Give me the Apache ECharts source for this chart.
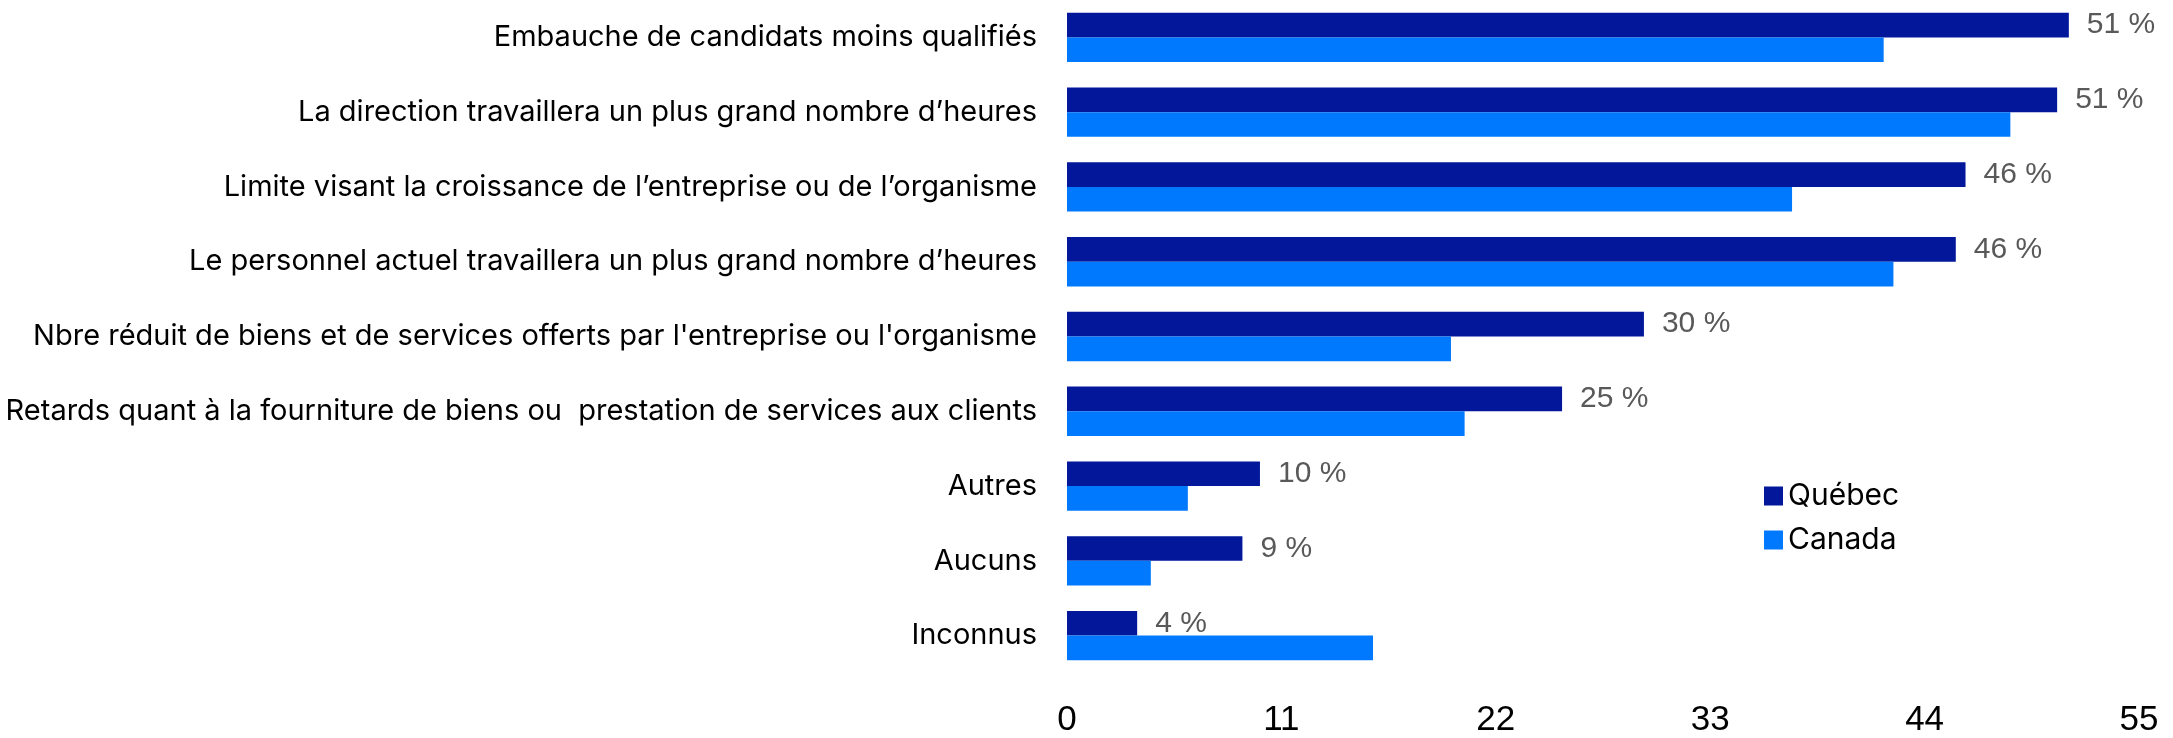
<!DOCTYPE html>
<html>
<head>
<meta charset="utf-8">
<script src="https://cdn.jsdelivr.net/npm/echarts@6/dist/echarts.min.js"></script>
<style>
html,body{margin:0;padding:0;background:#fff;}
#chart{width:2173px;height:738px;}
</style>
</head>
<body>
<div id="chart"></div>
<script>
var categories = [
  "Embauche de candidats moins qualifiés",
  "La direction travaillera un plus grand nombre d’heures",
  "Limite visant la croissance de l’entreprise ou de l’organisme",
  "Le personnel actuel travaillera un plus grand nombre d’heures",
  "Nbre réduit de biens et de services offerts par l'entreprise ou l'organisme",
  "Retards quant à la fourniture de biens ou  prestation de services aux clients",
  "Autres",
  "Aucuns",
  "Inconnus"
];
var quebec = [51.4, 50.8, 46.1, 45.6, 29.6, 25.4, 9.9, 9.0, 3.6];
var canada = [41.9, 48.4, 37.2, 42.4, 19.7, 20.4, 6.2, 4.3, 15.7];
var seriesNames = ["Québec", "Canada"];
var xTicks = [0, 11, 22, 33, 44, 55];

var chart = echarts.init(document.getElementById('chart'), null, {renderer: 'canvas'});
chart.setOption({
  animation: false,
  backgroundColor: '#ffffff',
  legend: {
    orient: 'vertical',
    left: 1764,
    top: 481,
    itemWidth: 19,
    itemHeight: 19,
    itemGap: 14,
    icon: 'rect',
    padding: 0,
    textStyle: {fontFamily: 'Inter', fontSize: 30, lineHeight: 30, color: '#000000'},
    data: seriesNames
  },
  grid: {left: 1067, right: 34, top: -1, height: 674, containLabel: false},
  xAxis: {
    type: 'value',
    min: xTicks[0],
    max: xTicks[xTicks.length - 1],
    interval: 11,
    axisLine: {show: false},
    axisTick: {show: false},
    splitLine: {show: false},
    axisLabel: {fontFamily: 'Liberation Sans', fontSize: 35, color: '#000000', margin: 30}
  },
  yAxis: {
    type: 'category',
    inverse: true,
    data: categories,
    axisLine: {show: false},
    axisTick: {show: false},
    axisLabel: {fontFamily: 'Inter', fontSize: 29, color: '#000000', margin: 30}
  },
  series: [
    {
      name: seriesNames[0],
      type: 'bar',
      data: quebec,
      itemStyle: {color: '#02179A'},
      barGap: '0%',
      barCategoryGap: '34%',
      label: {
        show: true,
        position: 'right',
        distance: 18,
        fontFamily: "'Liberation Sans Narrow', 'Liberation Sans'",
        fontSize: 30,
        color: '#595959',
        formatter: function (p) { return Math.round(p.value) + ' %'; }
      }
    },
    {
      name: seriesNames[1],
      type: 'bar',
      data: canada,
      itemStyle: {color: '#0079FF'},
      barGap: '0%',
      barCategoryGap: '34%'
    }
  ]
});
</script>
</body>
</html>
